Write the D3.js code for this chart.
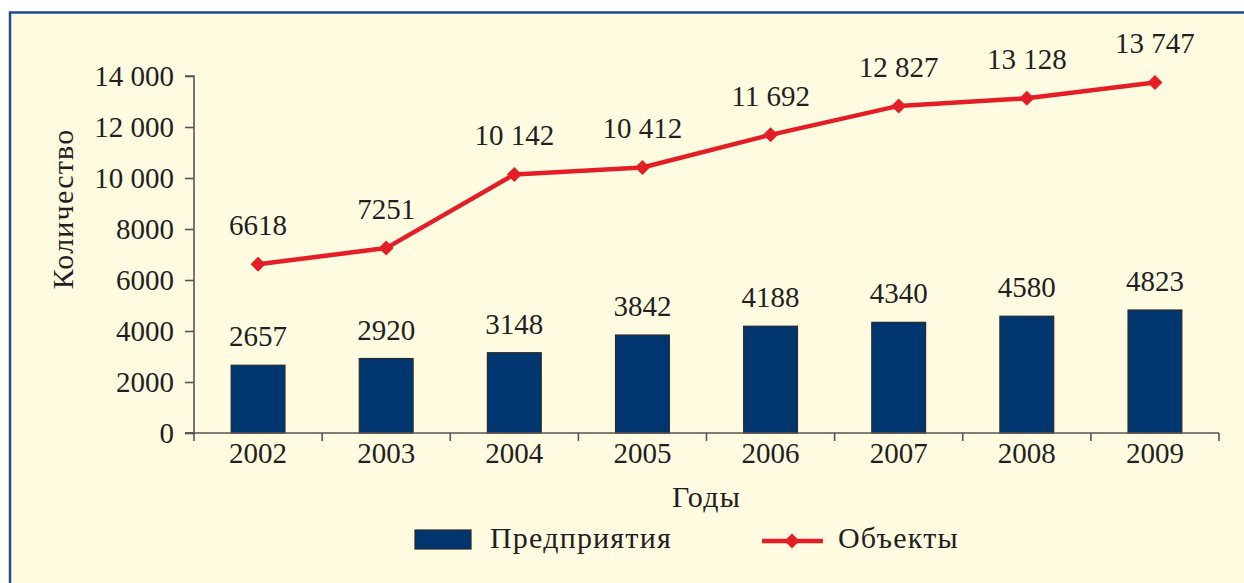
<!DOCTYPE html>
<html>
<head>
<meta charset="utf-8">
<script src="https://cdn.jsdelivr.net/npm/d3@7"></script>
<style>
  body { margin: 0; background: #ffffff; }
  text { font-family: "Liberation Serif", "Times New Roman", serif; fill: #231f20; }
  .word { font-size: 30px; letter-spacing: 1.2px; }
</style>
</head>
<body>
<div id="chart"></div>
<script>
var years = ["2002", "2003", "2004", "2005", "2006", "2007", "2008", "2009"];
var enterprises = [2657, 2920, 3148, 3842, 4188, 4340, 4580, 4823];
var objects = [6618, 7251, 10142, 10412, 11692, 12827, 13128, 13747];
var yTicks = [0, 2000, 4000, 6000, 8000, 10000, 12000, 14000];

var svgWidth = 1244;
var svgHeight = 583;

var margin = {
  top: 76,
  right: 25,
  bottom: 150,
  left: 194
};

var width = svgWidth - margin.left - margin.right;
var height = svgHeight - margin.top - margin.bottom;

// number format with a space as thousands separator (4-digit values stay plain)
function fmt(v) {
  var s = String(v);
  if (s.length <= 4) return s;
  return s.slice(0, s.length - 3) + " " + s.slice(-3);
}

var svg = d3.select("#chart")
    .append("svg")
    .attr("width", svgWidth)
    .attr("height", svgHeight);

// panel background with blue frame on top and left
svg.append("rect")
    .attr("x", 10)
    .attr("y", 12)
    .attr("width", svgWidth)
    .attr("height", svgHeight)
    .attr("fill", "#fefbe1");

svg.append("path")
    .attr("d", `M10,${svgHeight} L10,12.5 L${svgWidth},12.5`)
    .attr("fill", "none")
    .attr("stroke", "#1f4e8c")
    .attr("stroke-width", 2.5);

var chartGroup = svg.append("g")
    .attr("transform", `translate(${margin.left}, ${margin.top})`);

var xScale = d3.scaleBand()
    .domain(years)
    .range([0, width])
    .paddingInner(0.58)
    .paddingOuter(0.29);

var yScale = d3.scaleLinear()
    .domain([0, 14000])
    .range([height, 0]);

var bandStep = width / years.length;
var cx = d => xScale(d) + xScale.bandwidth() / 2;

// bars
chartGroup.selectAll("rect.bar")
    .data(years)
    .enter()
    .append("rect")
    .attr("class", "bar")
    .attr("x", d => xScale(d))
    .attr("y", (d, i) => yScale(enterprises[i]))
    .attr("width", xScale.bandwidth())
    .attr("height", (d, i) => height - yScale(enterprises[i]))
    .attr("fill", "#00366f")
    .attr("stroke", "#2a2a2a")
    .attr("stroke-width", 1.2);

chartGroup.append("g")
    .selectAll("text")
    .data(years)
    .enter()
    .append("text")
    .attr("x", d => cx(d))
    .attr("y", (d, i) => yScale(enterprises[i]) - 19)
    .attr("text-anchor", "middle")
    .attr("font-size", "29px")
    .text((d, i) => fmt(enterprises[i]));

// axes
var leftAxis = d3.axisLeft(yScale)
    .tickValues(yTicks)
    .tickSize(9)
    .tickPadding(11)
    .tickFormat(fmt);

var yAxisG = chartGroup.append("g")
    .call(leftAxis);
yAxisG.select(".domain").attr("d", `M-9,${height}H0V0H-9`);

var boundaries = d3.range(years.length + 1).map(i => i * bandStep);

var xAxisG = chartGroup.append("g")
    .attr("transform", `translate(0,${height})`);
xAxisG.append("line")
    .attr("x1", -9).attr("x2", width)
    .attr("y1", 0).attr("y2", 0);
xAxisG.selectAll("line.tick")
    .data(boundaries)
    .enter()
    .append("line")
    .attr("class", "tick")
    .attr("x1", d => d).attr("x2", d => d)
    .attr("y1", 0).attr("y2", 8);
xAxisG.selectAll("text")
    .data(years)
    .enter()
    .append("text")
    .attr("x", d => cx(d))
    .attr("y", 30)
    .attr("text-anchor", "middle")
    .attr("font-size", "29px")
    .text(d => d);

xAxisG.selectAll("line").attr("stroke", "#555555").attr("stroke-width", 1.6);
yAxisG.selectAll("line, path").attr("stroke", "#555555").attr("stroke-width", 1.6);
yAxisG.selectAll("text")
    .attr("font-size", "29px")
    .attr("font-family", "Liberation Serif, serif")
    .attr("fill", "#231f20");

// line series
var line = d3.line()
    .x((d, i) => cx(years[i]))
    .y(d => yScale(d));

chartGroup.append("path")
    .datum(objects)
    .attr("d", line)
    .attr("fill", "none")
    .attr("stroke", "#e41e26")
    .attr("stroke-width", 4.5)
    .attr("stroke-linejoin", "round");

var diamond = "M0,-7.5L7.5,0L0,7.5L-7.5,0Z";

chartGroup.selectAll("path.marker")
    .data(objects)
    .enter()
    .append("path")
    .attr("class", "marker")
    .attr("d", diamond)
    .attr("transform", (d, i) => `translate(${cx(years[i])},${yScale(d)})`)
    .attr("fill", "#e41e26");

chartGroup.append("g")
    .selectAll("text")
    .data(objects)
    .enter()
    .append("text")
    .attr("x", (d, i) => cx(years[i]))
    .attr("y", d => yScale(d) - 29)
    .attr("text-anchor", "middle")
    .attr("font-size", "29px")
    .text(d => fmt(d));

// axis titles
chartGroup.append("text")
    .attr("class", "word")
    .attr("transform", "rotate(-90)")
    .attr("x", 0 - 133)
    .attr("y", 0 - margin.left + 73)
    .attr("text-anchor", "middle")
    .text("Количество");

chartGroup.append("text")
    .attr("class", "word")
    .attr("x", width / 2)
    .attr("y", height + 74)
    .attr("text-anchor", "middle")
    .text("Годы");

// legend
var legend = svg.append("g");

legend.append("rect")
    .attr("x", 415)
    .attr("y", 530)
    .attr("width", 56)
    .attr("height", 19)
    .attr("fill", "#00366f")
    .attr("stroke", "#2a2a2a")
    .attr("stroke-width", 1.2);

legend.append("text")
    .attr("class", "word")
    .attr("x", 490)
    .attr("y", 548)
    .text("Предприятия");

legend.append("line")
    .attr("x1", 762)
    .attr("x2", 823)
    .attr("y1", 541)
    .attr("y2", 541)
    .attr("stroke", "#e41e26")
    .attr("stroke-width", 4.5);

legend.append("path")
    .attr("d", diamond)
    .attr("transform", "translate(792,541)")
    .attr("fill", "#e41e26");

legend.append("text")
    .attr("class", "word")
    .attr("x", 838)
    .attr("y", 548)
    .text("Объекты");
</script>
</body>
</html>
